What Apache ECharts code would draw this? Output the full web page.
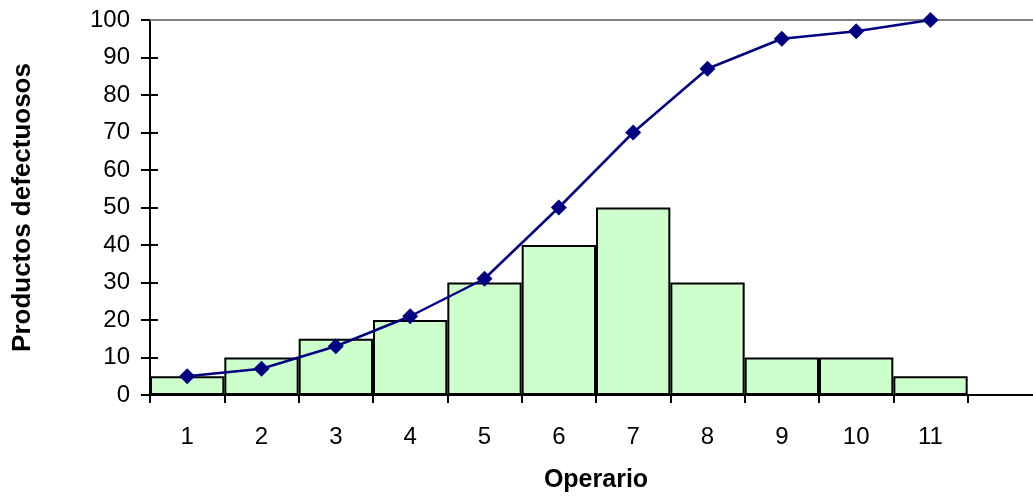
<!DOCTYPE html>
<html>
<head>
<meta charset="utf-8">
<script src="https://cdn.jsdelivr.net/npm/echarts@6/dist/echarts.min.js"></script>
<style>
  html, body { margin: 0; padding: 0; background: #fff; }
  #chart { width: 1033px; height: 496px; }
</style>
</head>
<body>
<div id="chart"></div>
<script>
// Operators (an extra empty slot keeps the axis running past the last bar)
const operarios = ['1', '2', '3', '4', '5', '6', '7', '8', '9', '10', '11', ''];
// Defective products per operator
const defectuosos = [5, 10, 15, 20, 30, 40, 50, 30, 10, 10, 5];
// Cumulative percentage
const acumulado = [5, 7, 13, 21, 31, 50, 70, 87, 95, 97, 100];

const yTicks = { min: 0, max: 100, interval: 10 };
const font = 'Liberation Sans, Arial, sans-serif';

const chart = echarts.init(document.getElementById('chart'), null, { renderer: 'canvas' });

chart.setOption({
  animation: false,
  backgroundColor: '#ffffff',
  grid: { left: 150, top: 20, bottom: 101, right: -9, containLabel: false, outerBoundsMode: 'none' },
  xAxis: {
    type: 'category',
    data: operarios,
    boundaryGap: true,
    name: 'Operario',
    nameLocation: 'middle',
    nameGap: 73,
    nameTextStyle: { fontFamily: font, fontSize: 25, fontWeight: 'bold', color: '#000' },
    axisLine: { lineStyle: { color: '#000', width: 2 } },
    axisTick: { show: true, alignWithLabel: false, length: 8, lineStyle: { color: '#000', width: 2 } },
    axisLabel: { margin: 30, fontFamily: font, fontSize: 24, color: '#000' },
    splitLine: { show: false }
  },
  yAxis: [
    {
      type: 'value',
      min: yTicks.min, max: yTicks.max, interval: yTicks.interval,
      name: 'Productos defectuosos',
      nameLocation: 'middle',
      nameGap: 114,
      nameRotate: 90,
      nameTextStyle: { fontFamily: font, fontSize: 26, fontWeight: 'bold', color: '#000' },
      axisLine: { show: true, lineStyle: { color: '#000', width: 2 } },
      axisTick: { show: true, length: 9, lineStyle: { color: '#000', width: 2 } },
      axisLabel: { margin: 20, fontFamily: font, fontSize: 24, color: '#000' },
      splitLine: { show: false }
    },
    {
      // inward half of the crossing ticks
      type: 'value',
      position: 'left',
      min: yTicks.min, max: yTicks.max, interval: yTicks.interval,
      axisLine: { show: false },
      axisTick: { show: true, inside: true, length: 8, lineStyle: { color: '#000', width: 2 } },
      axisLabel: { show: false },
      splitLine: { show: false }
    }
  ],
  series: [
    {
      type: 'bar',
      data: defectuosos,
      barCategoryGap: '0%',
      itemStyle: { color: '#CCFFCC', borderColor: '#000', borderWidth: 2 },
      markLine: {
        silent: true,
        symbol: 'none',
        label: { show: false },
        lineStyle: { color: '#808080', width: 2, type: 'solid' },
        data: [{ yAxis: 100 }]
      },
      z: 2
    },
    {
      type: 'line',
      data: acumulado,
      symbol: 'diamond',
      symbolSize: 16,
      lineStyle: { color: '#000080', width: 2.5 },
      itemStyle: { color: '#000080' },
      z: 5
    }
  ]
});
</script>
</body>
</html>
